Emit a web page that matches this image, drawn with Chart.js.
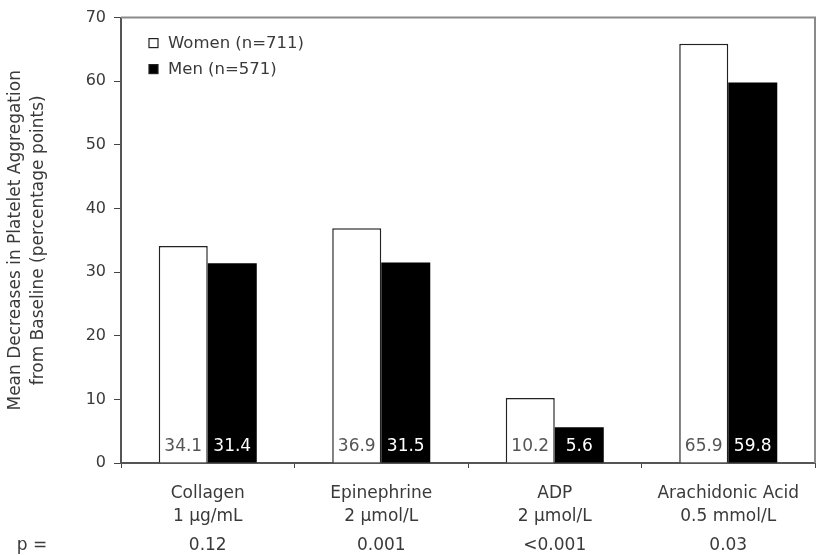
<!DOCTYPE html>
<html>
<head>
<meta charset="utf-8">
<script src="https://cdn.jsdelivr.net/npm/chart.js@4.4.1/dist/chart.umd.min.js"></script>
<style>
  html, body { margin: 0; padding: 0; background: #fff; }
  #wrap { width: 817px; height: 555px; position: relative; }
</style>
</head>
<body>
<div id="wrap"><canvas id="c" width="817" height="555"></canvas></div>
<script>
// ---- data ----
const categories = [["Collagen", "1 µg/mL"], ["Epinephrine", "2 µmol/L"], ["ADP", "2 µmol/L"], ["Arachidonic Acid", "0.5 mmol/L"]];
const womenValues = [34.1, 36.9, 10.2, 65.9];
const menValues = [31.4, 31.5, 5.6, 59.8];
const pValues = ["0.12", "0.001", "<0.001", "0.03"];
const pLabel = "p =";
const seriesLabels = ["Women (n=711)", "Men (n=571)"];
const yTitle = ["Mean Decreases in Platelet Aggregation", "from Baseline (percentage points)"];

const FONT = "'DejaVu Sans', sans-serif";
const TEXT = '#3a3a3a';

const extras = {
  id: 'extras',
  afterDraw(chart) {
    const ctx = chart.ctx;
    const a = chart.chartArea;
    const x = chart.scales.x;
    ctx.save();
    // frame top & right
    ctx.strokeStyle = '#8a8a8a';
    ctx.lineWidth = 2;
    ctx.beginPath();
    ctx.moveTo(a.left, a.top);
    ctx.lineTo(a.right, a.top);
    ctx.lineTo(a.right, a.bottom);
    ctx.stroke();

    // value labels at bottom of bars
    ctx.font = '17px ' + FONT;
    ctx.textAlign = 'center';
    ctx.textBaseline = 'middle';
    chart.data.datasets.forEach((ds, di) => {
      const meta = chart.getDatasetMeta(di);
      meta.data.forEach((bar, i) => {
        ctx.fillStyle = di === 0 ? '#555' : '#fff';
        ctx.fillText(ds.data[i].toFixed(1), bar.x, a.bottom - 16);
      });
    });

    // legend
    ctx.font = '16.5px ' + FONT;
    ctx.textAlign = 'left';
    chart.data.datasets.forEach((ds, di) => {
      const cy = a.top + 26 + di * 26;
      ctx.fillStyle = ds.backgroundColor;
      ctx.strokeStyle = '#222';
      ctx.lineWidth = 1.2;
      ctx.fillRect(a.left + 28, cy - 5, 9, 9);
      ctx.strokeRect(a.left + 28, cy - 5, 9, 9);
      ctx.fillStyle = TEXT;
      ctx.fillText(ds.label, a.left + 47, cy);
    });

    // p values row
    ctx.font = '17px ' + FONT;
    ctx.textAlign = 'center';
    ctx.fillStyle = TEXT;
    pValues.forEach((p, i) => {
      ctx.fillText(p, x.getPixelForValue(i), 546);
    });
    ctx.fillText(pLabel, 32, 546);
    ctx.restore();
  }
};

new Chart(document.getElementById('c'), {
  type: 'bar',
  data: {
    labels: categories,
    datasets: [
      { label: seriesLabels[0], data: womenValues, backgroundColor: '#ffffff', borderColor: '#222', borderWidth: 1.5, borderSkipped: 'bottom' },
      { label: seriesLabels[1], data: menValues, backgroundColor: '#000000', borderColor: '#000', borderWidth: 0 }
    ]
  },
  options: {
    responsive: false,
    animation: false,
    devicePixelRatio: 1,
    layout: { padding: { left: 0, right: 2, top: 12, bottom: 0 } },
    datasets: { bar: { categoryPercentage: 0.565, barPercentage: 1.0 } },
    plugins: { legend: { display: false }, tooltip: { enabled: false } },
    scales: {
      x: {
        grid: { offset: true, drawOnChartArea: false, color: '#444', tickLength: 5, lineWidth: 1 },
        border: { color: '#555', width: 2 },
        ticks: { color: TEXT, font: { family: FONT, size: 17, lineHeight: 1.3 }, padding: 15, maxRotation: 0, autoSkip: false },
        afterFit(s) { s.height = 92; }
      },
      y: {
        min: 0, max: 70,
        ticks: { stepSize: 10, color: TEXT, font: { family: FONT, size: 16 }, padding: 8 },
        grid: { drawOnChartArea: false, color: '#444', tickLength: 7 },
        border: { color: '#555', width: 2 },
        title: { display: true, text: yTitle, color: TEXT, font: { family: FONT, size: 17, lineHeight: 1.3 }, padding: { top: 5, bottom: 0 } },
        afterFit(s) { s.width = 121; }
      }
    }
  },
  plugins: [extras]
});
</script>
</body>
</html>
